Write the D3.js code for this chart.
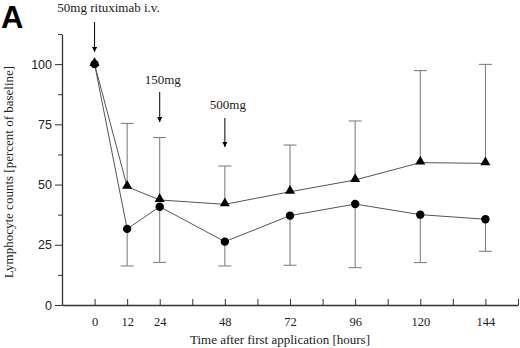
<!DOCTYPE html>
<html>
<head>
<meta charset="utf-8">
<script src="https://cdn.jsdelivr.net/npm/d3@7"></script>
<style>
  body { margin: 0; background: #fff; }
  svg { display: block; }
</style>
</head>
<body>
<svg id="chart"></svg>
<script>
// time points (hours after first application)
const hours = [0, 12, 24, 48, 72, 96, 120, 144];

// circles: mean and lower error bar
const circleMean = [100, 31.6, 40.8, 26.3, 37.1, 41.9, 37.5, 35.6];
const circleLow = [100, 16.2, 17.7, 16.2, 16.5, 15.5, 17.6, 22.3];

// triangles: mean and upper error bar
const triangleMean = [100, 49.1, 43.6, 41.8, 47.0, 51.9, 59.1, 58.8];
const triangleHigh = [100, 75.4, 69.5, 57.7, 66.4, 76.4, 97.3, 99.9];

const xTickLabels = [0, 12, 24, 48, 72, 96, 120, 144];
const yTickLabels = [0, 25, 50, 75, 100];

// dose annotations
const doseLabels = ["50mg rituximab i.v.", "150mg", "500mg"];
const doseHours = [0, 24, 48];

const width = 520, height = 348;
const margin = { top: 34, right: 2, bottom: 43, left: 62 };

const svg = d3.select("#chart")
    .attr("width", width)
    .attr("height", height);

const x = d3.scaleLinear()
    .domain([-12, 156])
    .range([margin.left, width - margin.right]);

const y = d3.scaleLinear()
    .domain([0, 112.5])
    .range([height - margin.bottom, margin.top]);

const serif = "'Liberation Serif', 'Times New Roman', serif";
const sans = "'Liberation Sans', Arial, sans-serif";

// panel letter
svg.append("text")
    .attr("x", 1)
    .attr("y", 28)
    .style("font-family", sans)
    .style("font-weight", "bold")
    .style("font-size", "31px")
    .text("A");

// y axis: minor ticks first, then labelled ones
svg.append("g")
    .attr("transform", `translate(${margin.left},0)`)
    .call(d3.axisLeft(y).tickValues([12.5, 37.5, 62.5, 87.5, 112.5]).tickSize(4).tickFormat(""))
    .call(g => g.select(".domain").remove())
    .selectAll("line").attr("stroke", "#333");

const yAxisG = svg.append("g")
    .attr("transform", `translate(${margin.left},0)`)
    .call(d3.axisLeft(y).tickValues(yTickLabels).tickSizeInner(7).tickSizeOuter(0).tickPadding(3));

yAxisG.select(".domain").attr("stroke", "#333").attr("stroke-width", 1.3);
yAxisG.selectAll("line").attr("stroke", "#333");
yAxisG.selectAll("text")
    .style("font-family", sans)
    .style("font-size", "12.5px")
    .attr("fill", "#222");

// x axis: ticks every 12 h pointing inward, only some labelled
const xAxisG = svg.append("g")
    .attr("transform", `translate(0,${y(0)})`)
    .call(d3.axisBottom(x)
        .tickValues(d3.range(0, 157, 12))
        .tickSizeInner(-6)
        .tickSizeOuter(0)
        .tickPadding(12)
        .tickFormat(d => xTickLabels.includes(d) ? d : ""));

xAxisG.select(".domain").attr("stroke", "#333").attr("stroke-width", 1.3);
xAxisG.selectAll("line").attr("stroke", "#333");
xAxisG.selectAll("text")
    .style("font-family", serif)
    .style("font-size", "12.5px")
    .attr("fill", "#222");

// axis titles
svg.append("text")
    .attr("x", 280)
    .attr("y", 344)
    .attr("text-anchor", "middle")
    .style("font-family", serif)
    .style("font-size", "13px")
    .attr("fill", "#222")
    .text("Time after first application [hours]");

svg.append("text")
    .attr("transform", `translate(13,${172}) rotate(-90)`)
    .attr("text-anchor", "middle")
    .style("font-family", serif)
    .style("font-size", "13px")
    .attr("fill", "#222")
    .text("Lymphocyte counts [percent of baseline]");

const plot = svg.append("g");

// error bars
const capW = 6.5;
const errCircle = plot.selectAll(".err-c")
    .data(hours.map((h, i) => ({ h, m: circleMean[i], e: circleLow[i] })).filter(d => d.h > 0))
    .join("g")
    .attr("class", "err-c")
    .attr("stroke", "#777")
    .attr("stroke-width", 1);
errCircle.append("line")
    .attr("x1", d => x(d.h)).attr("x2", d => x(d.h))
    .attr("y1", d => y(d.m)).attr("y2", d => y(d.e));
errCircle.append("line")
    .attr("x1", d => x(d.h) - capW).attr("x2", d => x(d.h) + capW)
    .attr("y1", d => y(d.e)).attr("y2", d => y(d.e));

const errTri = plot.selectAll(".err-t")
    .data(hours.map((h, i) => ({ h, m: triangleMean[i], e: triangleHigh[i] })).filter(d => d.h > 0))
    .join("g")
    .attr("class", "err-t")
    .attr("stroke", "#777")
    .attr("stroke-width", 1);
errTri.append("line")
    .attr("x1", d => x(d.h)).attr("x2", d => x(d.h))
    .attr("y1", d => y(d.m)).attr("y2", d => y(d.e));
errTri.append("line")
    .attr("x1", d => x(d.h) - capW).attr("x2", d => x(d.h) + capW)
    .attr("y1", d => y(d.e)).attr("y2", d => y(d.e));

// connecting lines
const line = d3.line()
    .x(d => x(d[0]))
    .y(d => y(d[1]));

plot.append("path")
    .datum(hours.map((h, i) => [h, circleMean[i]]))
    .attr("d", line)
    .attr("fill", "none")
    .attr("stroke", "#555")
    .attr("stroke-width", 1);

plot.append("path")
    .datum(hours.map((h, i) => [h, triangleMean[i]]))
    .attr("d", line)
    .attr("fill", "none")
    .attr("stroke", "#555")
    .attr("stroke-width", 1);

// markers
plot.selectAll(".tri")
    .data(hours.map((h, i) => [h, triangleMean[i]]))
    .join("path")
    .attr("class", "tri")
    .attr("d", d3.symbol(d3.symbolTriangle, 44))
    .attr("transform", d => `translate(${x(d[0])},${y(d[1]) - 1})`)
    .attr("fill", "#000");

plot.selectAll(".dot")
    .data(hours.map((h, i) => [h, circleMean[i]]))
    .join("circle")
    .attr("class", "dot")
    .attr("cx", d => x(d[0]))
    .attr("cy", d => y(d[1]))
    .attr("r", 4.2)
    .attr("fill", "#000");

// dose arrows
svg.append("defs").append("marker")
    .attr("id", "head")
    .attr("viewBox", "0 0 10 10")
    .attr("refX", 10).attr("refY", 5)
    .attr("markerWidth", 5).attr("markerHeight", 5)
    .attr("markerUnits", "userSpaceOnUse")
    .attr("orient", "auto")
    .append("path")
    .attr("d", "M0,0 L10,5 L0,10 Z")
    .attr("fill", "#000");

const arrowTop = [22, 92, 118];
const arrowBottom = [52, 122, 147];
const labelBase = [12, 84, 109];
const labelShift = [14, 3, 3];

doseLabels.forEach((lab, i) => {
    const ax = x(doseHours[i]);
    svg.append("text")
        .attr("x", ax + labelShift[i])
        .attr("y", labelBase[i])
        .attr("text-anchor", "middle")
        .style("font-family", serif)
        .style("font-size", "13px")
        .attr("fill", "#222")
        .text(lab);
    svg.append("line")
        .attr("x1", ax).attr("x2", ax)
        .attr("y1", arrowTop[i]).attr("y2", arrowBottom[i])
        .attr("stroke", "#000")
        .attr("stroke-width", 1)
        .attr("marker-end", "url(#head)");
});
</script>
</body>
</html>
